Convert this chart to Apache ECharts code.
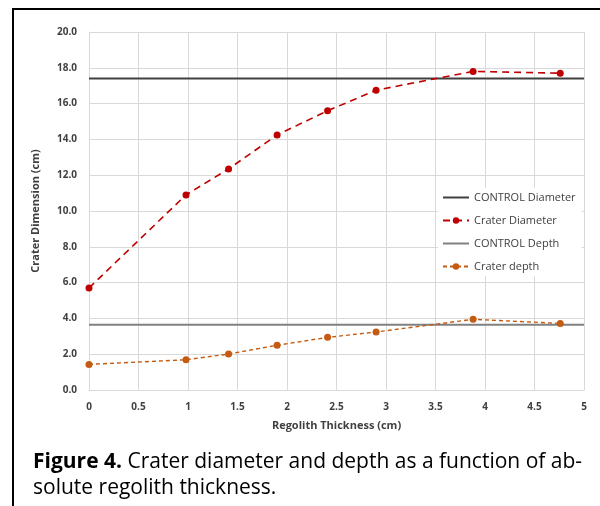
<!DOCTYPE html>
<html><head><meta charset="utf-8">
<script src="https://cdn.jsdelivr.net/npm/echarts@6/dist/echarts.min.js"></script>
<style>html,body{margin:0;padding:0;background:#fff}#c{width:600px;height:506px}</style>
</head><body><div id="c"></div>
<script>
const thickness = [0, 0.98, 1.41, 1.90, 2.41, 2.90, 3.88, 4.76];
const craterDiameter = [5.7, 10.9, 12.35, 14.25, 15.6, 16.75, 17.8, 17.7];
const craterDepth = [1.43, 1.69, 2.01, 2.5, 2.94, 3.24, 3.95, 3.72];
const controlDiameter = 17.4;
const controlDepth = 3.65;
const xRange = [0, 5];
const pair = (xs, ys) => xs.map((x, i) => [x, ys[i]]);
const flat = v => xRange.map(x => [x, v]);
const chart = echarts.init(document.getElementById('c'));
const tickFont = {color:'#404040', fontWeight:'bold', fontSize:10, fontFamily:'Open Sans'};
const barIcon = 'path://M0,0H26V2H0Z';
chart.setOption({
  animation:false,
  backgroundColor:'#fff',
  grid:{left:89, right:16, top:32, bottom:116},
  graphic:[
    {type:'rect', shape:{x:13, y:9, width:620, height:520}, style:{fill:'none', stroke:'#000', lineWidth:2}},
    {type:'text', left:33, top:452, style:{rich:{b:{fontWeight:'bold', fontSize:21, fontFamily:'Open Sans', fill:'#000'}, n:{fontSize:21, fontFamily:'Open Sans', fill:'#000'}}, text:'{b|Figure 4.}{n| Crater diameter and depth as a function of ab-}'}},
    {type:'text', left:33, top:478, style:{text:'solute regolith thickness.', fontSize:21, fontFamily:'Open Sans', fill:'#000'}}
  ],
  legend:{
    orient:'vertical', left:438, top:188, itemGap:12, itemWidth:26, itemHeight:8,
    backgroundColor:'#fff', padding:[4,6,4,4],
    textStyle:{fontSize:11, color:'#404040', fontFamily:'Open Sans'},
    data:[{name:'CONTROL Diameter', icon:barIcon},'Crater Diameter',{name:'CONTROL Depth', icon:barIcon},'Crater depth']
  },
  xAxis:{
    type:'value', min:0, max:5, interval:0.5,
    name:'Regolith Thickness (cm)', nameLocation:'middle', nameGap:30,
    nameTextStyle:{fontWeight:'bold', fontSize:11, color:'#404040', fontFamily:'Open Sans'},
    axisLine:{show:true, lineStyle:{color:'#d9d9d9'}}, axisTick:{show:false},
    axisLabel:Object.assign({margin:12}, tickFont),
    splitLine:{show:true, lineStyle:{color:'#d9d9d9'}}
  },
  yAxis:{
    type:'value', min:0, max:20, interval:2,
    name:'Crater Dimension (cm)', nameLocation:'middle', nameGap:48,
    nameTextStyle:{fontWeight:'bold', fontSize:11, color:'#404040', fontFamily:'Open Sans'},
    axisLine:{show:true, lineStyle:{color:'#d9d9d9'}}, axisTick:{show:false},
    axisLabel:Object.assign({margin:12, formatter:v => v.toFixed(1)}, tickFont),
    splitLine:{show:true, lineStyle:{color:'#d9d9d9'}}
  },
  series:[
    {name:'CONTROL Diameter', type:'line', data:flat(controlDiameter), symbol:'none', lineStyle:{color:'#404040', width:2}, itemStyle:{color:'#404040'}, z:2},
    {name:'Crater Diameter', type:'line', data:pair(thickness, craterDiameter), symbol:'circle', symbolSize:7, lineStyle:{color:'#c00000', width:1.6, type:[7,5]}, itemStyle:{color:'#c00000'}, z:3},
    {name:'CONTROL Depth', type:'line', data:flat(controlDepth), symbol:'none', lineStyle:{color:'#808080', width:2}, itemStyle:{color:'#808080'}, z:2},
    {name:'Crater depth', type:'line', data:pair(thickness, craterDepth), symbol:'circle', symbolSize:7, lineStyle:{color:'#c55a11', width:1.4, type:[4,3]}, itemStyle:{color:'#c55a11'}, z:3}
  ]
});
</script></body></html>
